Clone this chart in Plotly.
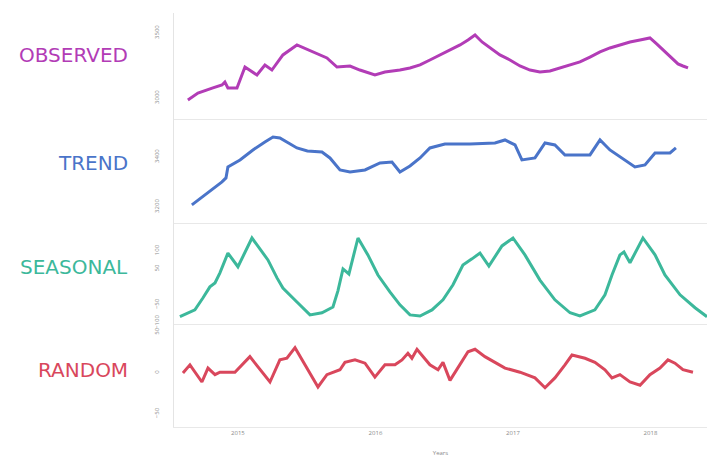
import plotly.graph_objects as go
from plotly.subplots import make_subplots

# ---------------- data (decimal years, values) ----------------
obs_x = [2014.636, 2014.709, 2014.818, 2014.884, 2014.905, 2014.927, 2014.993, 2015.051,
         2015.138, 2015.196, 2015.247, 2015.327, 2015.429, 2015.545, 2015.647, 2015.720,
         2015.815, 2015.887, 2015.996, 2016.069, 2016.178, 2016.251, 2016.324, 2016.396,
         2016.469, 2016.542, 2016.615, 2016.673, 2016.724, 2016.775, 2016.833, 2016.905,
         2016.978, 2017.051, 2017.124, 2017.196, 2017.269, 2017.342, 2017.415, 2017.487,
         2017.560, 2017.633, 2017.705, 2017.778, 2017.851, 2017.924, 2017.996, 2018.047,
         2018.105, 2018.156, 2018.200, 2018.236, 2018.273]
obs_y = [2985, 3038, 3077, 3100, 3123, 3077, 3077, 3238,
         3177, 3254, 3215, 3331, 3408, 3354, 3308, 3238,
         3246, 3215, 3177, 3200, 3215, 3231, 3254, 3292,
         3331, 3369, 3408, 3446, 3485, 3431, 3385, 3331,
         3292, 3246, 3215, 3200, 3208, 3231, 3254, 3277,
         3315, 3354, 3385, 3408, 3431, 3446, 3462, 3415,
         3354, 3308, 3262, 3246, 3231]

trend_x = [2014.665, 2014.884, 2014.913, 2014.927, 2015.015, 2015.109, 2015.196, 2015.255,
           2015.305, 2015.429, 2015.505, 2015.611, 2015.669, 2015.742, 2015.815, 2015.924,
           2016.033, 2016.120, 2016.178, 2016.251, 2016.324, 2016.396, 2016.505, 2016.687,
           2016.869, 2016.942, 2017.015, 2017.065, 2017.160, 2017.233, 2017.305, 2017.378,
           2017.560, 2017.633, 2017.705, 2017.815, 2017.887, 2017.960, 2018.033, 2018.142,
           2018.185]
trend_y = [3208, 3300, 3316, 3360, 3388, 3428, 3460, 3480,
           3476, 3436, 3424, 3420, 3396, 3348, 3340, 3348,
           3376, 3380, 3340, 3364, 3396, 3436, 3452, 3452,
           3456, 3468, 3448, 3388, 3396, 3456, 3448, 3408,
           3408, 3468, 3428, 3388, 3360, 3368, 3416, 3416,
           3436]

seas_x = [2014.578, 2014.687, 2014.745, 2014.796, 2014.833, 2014.869, 2014.927, 2015.000,
          2015.102, 2015.218, 2015.284, 2015.327, 2015.429, 2015.524, 2015.611, 2015.691,
          2015.727, 2015.764, 2015.807, 2015.873, 2015.945, 2016.018, 2016.105,
          2016.178, 2016.251, 2016.324, 2016.411, 2016.491, 2016.564, 2016.636, 2016.702,
          2016.760, 2016.825, 2016.920, 2017.000, 2017.087, 2017.196, 2017.305, 2017.415,
          2017.487, 2017.596, 2017.669, 2017.720, 2017.778, 2017.807, 2017.851, 2017.945,
          2018.033, 2018.105, 2018.215, 2018.324, 2018.411]
seas_y = [-83, -64, -31, 0, 11, 39, 94, 56,
          136, 75, 25, -3, -42, -78, -72, -56,
          -11, 50, 36, 136, 89, 33, -14,
          -50, -78, -81, -64, -36, 6, 61, 78,
          94, 58, 114, 136, 89, 19, -36, -72,
          -81, -64, -22, 33, 89, 97, 67, 136,
          89, 33, -22, -58, -83]

rand_x = [2014.600, 2014.651, 2014.738, 2014.782, 2014.833, 2014.869, 2014.978, 2015.087,
          2015.233, 2015.305, 2015.356, 2015.415, 2015.582, 2015.647, 2015.742, 2015.778,
          2015.851, 2015.924, 2015.996, 2016.069, 2016.142, 2016.193, 2016.236, 2016.265,
          2016.302, 2016.396, 2016.455, 2016.491, 2016.542, 2016.615, 2016.673, 2016.724,
          2016.796, 2016.869, 2016.942, 2017.051, 2017.160, 2017.233, 2017.305, 2017.378,
          2017.429, 2017.524, 2017.596, 2017.669, 2017.720, 2017.778, 2017.851, 2017.924,
          2017.996, 2018.069, 2018.127, 2018.178, 2018.236, 2018.309]
rand_y = [0, 10, -11, 6, -2, 1, 1, 20,
          -11, 16, 18, 31, -17, -2, 4, 13,
          16, 12, -5, 10, 10, 16, 24, 18,
          29, 10, 4, 13, -9, 10, 26, 29,
          20, 13, 6, 1, -6, -18, -6, 10,
          22, 18, 13, 4, -6, -2, -11, -15,
          -2, 6, 16, 12, 4, 1]

year_ticks = [2015, 2016, 2017, 2018]
year_labels = ["2015", "2016", "2017", "2018"]

panel_names = ["OBSERVED", "TREND", "SEASONAL", "RANDOM"]
panel_colors = ["#B23CB6", "#4A74C9", "#3CB89B", "#D9475C"]
panel_ticks = [[3000, 3500], [3200, 3400], [-100, -50, 50, 100], [-50, 0, 50]]
panel_ranges = [[2838, 3654], [3136, 3552], [-103, 178], [-66, 60]]

series = [(obs_x, obs_y), (trend_x, trend_y), (seas_x, seas_y), (rand_x, rand_y)]

# ---------------- figure ----------------
fig = make_subplots(rows=4, cols=1, shared_xaxes=True, vertical_spacing=0)
domains = [[0.744, 1.0], [0.493, 0.744], [0.249, 0.493], [0.0, 0.249]]
label_y = [0.899, 0.638, 0.386, 0.138]
tick_font = dict(size=6, color="#8a8a8a", family="Open Sans")

for i, ((xs, ys), col) in enumerate(zip(series, panel_colors)):
    fig.add_trace(go.Scatter(x=xs, y=ys, mode="lines",
                             line=dict(color=col, width=3),
                             showlegend=False, hoverinfo="skip"),
                  row=i + 1, col=1)
    yname = "yaxis" if i == 0 else f"yaxis{i+1}"
    xname = "xaxis" if i == 0 else f"xaxis{i+1}"
    fig.layout[yname].update(domain=domains[i], range=panel_ranges[i],
                             tickvals=panel_ticks[i], showgrid=False, zeroline=False,
                             showline=True, linecolor="#e4e4e4", linewidth=1,
                             tickangle=-90, tickfont=tick_font,
                             ticklabelstandoff=12, ticks="", automargin=False)
    fig.layout[xname].update(range=[2014.535, 2018.411], showgrid=False, zeroline=False,
                             showline=True, linecolor="#e8e8e8", linewidth=1,
                             tickvals=year_ticks, ticktext=year_labels,
                             showticklabels=(i == 3), tickfont=tick_font,
                             ticks="", automargin=False)
    fig.add_annotation(text=panel_names[i], xref="paper", yref="paper",
                       x=-0.083, y=label_y[i], xanchor="right", yanchor="middle",
                       showarrow=False,
                       font=dict(family="DejaVu Sans", size=20, color=col))

fig.layout.xaxis4.update(title=dict(text="Years", font=tick_font, standoff=14))

fig.update_layout(width=707, height=471, plot_bgcolor="white", paper_bgcolor="white",
                  margin=dict(l=174, r=0, t=13, b=44, autoexpand=False), showlegend=False)

fig.write_html("out.html", config={"displayModeBar": False},
               post_script="document.body.style.margin='0';document.body.style.padding='0';")
